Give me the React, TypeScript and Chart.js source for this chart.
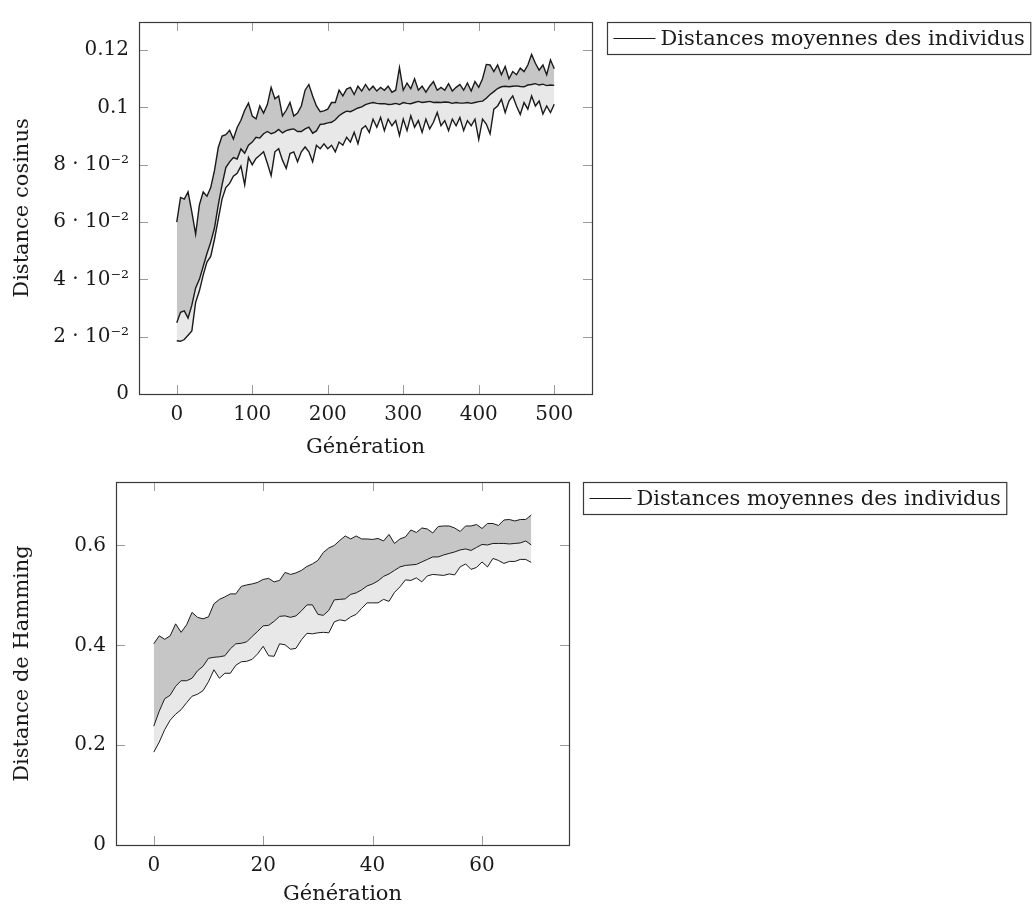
import React, { useEffect, useRef } from "react";
import { Chart, registerables } from "chart.js";

Chart.register(...registerables);

// ---------- data : cosine distance (top panel) ----------
const TOP_GEN = [
  0, 5, 10, 15, 20, 25, 30, 35, 40, 45, 50, 55, 60, 65, 70, 75, 80, 85, 90, 95,
  100, 105, 110, 115, 120, 125, 130, 135, 140, 145, 150, 155, 160, 165, 170, 175, 180, 185, 190, 195,
  200, 205, 210, 215, 220, 225, 230, 235, 240, 245, 250, 255, 260, 265, 270, 275, 280, 285, 290, 295,
  300, 305, 310, 315, 320, 325, 330, 335, 340, 345, 350, 355, 360, 365, 370, 375, 380, 385, 390, 395,
  400, 405, 410, 415, 420, 425, 430, 435, 440, 445, 450, 455, 460, 465, 470, 475, 480, 485, 490, 495,
  500,
];
const TOP_MAX = [
  0.06, 0.0686, 0.068, 0.0705, 0.0635, 0.0558, 0.066, 0.0705, 0.069, 0.072,
  0.078, 0.086, 0.09, 0.0905, 0.092, 0.089, 0.093, 0.0955, 0.099, 0.1015,
  0.097, 0.096, 0.1005, 0.098, 0.101, 0.107, 0.103, 0.104, 0.097, 0.099,
  0.1017, 0.097, 0.098, 0.1005, 0.106, 0.108, 0.104, 0.1005, 0.0985, 0.0988,
  0.0994, 0.1017, 0.1017, 0.106, 0.104, 0.1064, 0.107, 0.1045, 0.1074, 0.1057,
  0.108, 0.106, 0.1074, 0.1057, 0.107, 0.106, 0.1074, 0.1053, 0.106, 0.1139,
  0.106, 0.1085, 0.1065, 0.11, 0.106, 0.1074, 0.1053, 0.1074, 0.109, 0.106,
  0.107, 0.106, 0.1083, 0.1057, 0.107, 0.108, 0.106, 0.1085, 0.1057, 0.109,
  0.107, 0.11, 0.115, 0.1148, 0.1125, 0.1148, 0.1114, 0.1143, 0.11, 0.1125,
  0.1114, 0.1137, 0.1125, 0.1148, 0.1185, 0.1154, 0.113, 0.1148, 0.1114, 0.1166,
  0.1135,
];
const TOP_MEAN = [
  0.0249, 0.0285, 0.029, 0.0265, 0.031, 0.037, 0.04, 0.0445, 0.049, 0.053,
  0.058, 0.066, 0.073, 0.079, 0.081, 0.0825, 0.082, 0.0855, 0.084, 0.0868,
  0.0879, 0.0896, 0.0893, 0.0908, 0.0916, 0.0908, 0.0913, 0.0923, 0.0911, 0.0919,
  0.0923, 0.0925, 0.0916, 0.0916, 0.0925, 0.0931, 0.091, 0.0918, 0.0941, 0.0942,
  0.0946, 0.0948, 0.0957, 0.0971, 0.098, 0.0987, 0.0985, 0.0991, 0.0998, 0.1002,
  0.101, 0.1014, 0.1017, 0.1014, 0.1013, 0.1013, 0.101, 0.1011, 0.1014, 0.101,
  0.1017, 0.1014, 0.1013, 0.1017, 0.1021, 0.1017, 0.1019, 0.1021, 0.1017, 0.1018,
  0.1017, 0.1019, 0.1018, 0.1014, 0.1017, 0.1015, 0.1015, 0.1017, 0.1014, 0.1017,
  0.102, 0.1022, 0.1032, 0.1045, 0.1055, 0.1066, 0.1072, 0.1074, 0.1072, 0.1074,
  0.1075, 0.1073, 0.1072, 0.1078, 0.108, 0.1083, 0.1078, 0.1081, 0.1076, 0.1078,
  0.1077,
];
const TOP_MIN = [
  0.0186, 0.0184, 0.019, 0.0205, 0.022, 0.032, 0.036, 0.0415, 0.046, 0.048,
  0.054, 0.061, 0.068, 0.072, 0.0735, 0.076, 0.077, 0.0795, 0.073, 0.0825,
  0.08, 0.0822, 0.0833, 0.0845, 0.0805, 0.0762, 0.0845, 0.0856, 0.0816, 0.0787,
  0.0839, 0.0845, 0.081, 0.0845, 0.0862, 0.0845, 0.081, 0.0868, 0.0856, 0.0873,
  0.0856, 0.0868, 0.0845, 0.0879, 0.0868, 0.0896, 0.0879, 0.0913, 0.0873, 0.0925,
  0.0936, 0.0913, 0.0959, 0.0931, 0.0965, 0.0919, 0.0959, 0.0936, 0.0954, 0.0902,
  0.0959, 0.0919, 0.0971, 0.0931, 0.0954, 0.0913, 0.0959, 0.0925, 0.0948, 0.0982,
  0.0936, 0.0954, 0.0919, 0.0959, 0.0936, 0.0965, 0.0919, 0.0954, 0.0936, 0.0959,
  0.0888, 0.0959, 0.0942, 0.0908, 0.0994, 0.1005, 0.1028, 0.0982, 0.1022, 0.104,
  0.1005, 0.0975, 0.1017, 0.0994, 0.104, 0.1005, 0.1022, 0.0977, 0.1005, 0.0982,
  0.1011,
];
const TOP_X_TICKS = [0, 100, 200, 300, 400, 500];
const TOP_X_TICK_LABELS = ["0", "100", "200", "300", "400", "500"];
const TOP_Y_TICKS = [0, 0.02, 0.04, 0.06, 0.08, 0.1, 0.12];
const TOP_Y_TICK_LABELS = [
  "0",
  "2 · 10⁻²",
  "4 · 10⁻²",
  "6 · 10⁻²",
  "8 · 10⁻²",
  "0.1",
  "0.12",
];
const TOP_Y_TITLE = "Distance cosinus";

// ---------- data : Hamming distance (bottom panel) ----------
const BOT_GEN = [
  0, 1, 2, 3, 4, 5, 6, 7, 8, 9, 10, 11, 12, 13, 14, 15, 16, 17, 18, 19,
  20, 21, 22, 23, 24, 25, 26, 27, 28, 29, 30, 31, 32, 33, 34, 35, 36, 37, 38, 39,
  40, 41, 42, 43, 44, 45, 46, 47, 48, 49, 50, 51, 52, 53, 54, 55, 56, 57, 58, 59,
  60, 61, 62, 63, 64, 65, 66, 67, 68, 69,
];
const BOT_MAX = [
  0.403, 0.419, 0.412, 0.419, 0.443, 0.426, 0.441, 0.466, 0.456, 0.453,
  0.457, 0.483, 0.492, 0.497, 0.503, 0.503, 0.518, 0.521, 0.523, 0.526,
  0.532, 0.534, 0.527, 0.53, 0.546, 0.542, 0.545, 0.55, 0.558, 0.563,
  0.57, 0.586, 0.595, 0.6, 0.61, 0.619, 0.613, 0.619, 0.613, 0.613,
  0.612, 0.614, 0.609, 0.622, 0.604, 0.613, 0.617, 0.631, 0.626, 0.635,
  0.633, 0.625, 0.638, 0.639, 0.639, 0.635, 0.628, 0.639, 0.639, 0.642,
  0.634, 0.644, 0.644, 0.64, 0.651, 0.652, 0.649, 0.652, 0.652, 0.661,
];
const BOT_MEAN = [
  0.238, 0.268, 0.293, 0.3, 0.318, 0.329, 0.329, 0.334, 0.349, 0.358,
  0.374, 0.376, 0.377, 0.379, 0.393, 0.403, 0.404, 0.407, 0.418, 0.428,
  0.439, 0.44, 0.448, 0.458, 0.459, 0.456, 0.459, 0.469, 0.481, 0.481,
  0.462, 0.46, 0.47, 0.491, 0.492, 0.493, 0.502, 0.505, 0.511, 0.519,
  0.523, 0.529, 0.538, 0.543, 0.55, 0.557, 0.56, 0.561, 0.562, 0.567,
  0.572, 0.577, 0.577, 0.581, 0.584, 0.587, 0.591, 0.593, 0.59, 0.596,
  0.602, 0.601, 0.604, 0.604, 0.604, 0.603, 0.604, 0.605, 0.609, 0.601,
];
const BOT_MIN = [
  0.186, 0.206, 0.231, 0.25, 0.262, 0.271, 0.285, 0.298, 0.302, 0.309,
  0.327, 0.351, 0.334, 0.344, 0.344, 0.36, 0.367, 0.368, 0.372, 0.383,
  0.398, 0.379, 0.378, 0.403, 0.401, 0.392, 0.394, 0.411, 0.424, 0.423,
  0.425, 0.426, 0.425, 0.447, 0.451, 0.449, 0.457, 0.462, 0.474, 0.485,
  0.485, 0.485, 0.492, 0.488, 0.506, 0.517, 0.531, 0.53, 0.535, 0.527,
  0.539, 0.542, 0.541, 0.54, 0.543, 0.541, 0.557, 0.563, 0.552, 0.556,
  0.567, 0.557, 0.574, 0.57, 0.564, 0.568, 0.568, 0.572, 0.572, 0.566,
];
const BOT_X_TICKS = [0, 20, 40, 60];
const BOT_X_TICK_LABELS = ["0", "20", "40", "60"];
const BOT_Y_TICKS = [0, 0.2, 0.4, 0.6];
const BOT_Y_TICK_LABELS = ["0", "0.2", "0.4", "0.6"];
const BOT_Y_TITLE = "Distance de Hamming";

const X_TITLE = "Génération";
const LEGEND_LABEL = "Distances moyennes des individus";

// ---------- style ----------
const FONT = "'DejaVu Serif', 'Liberation Serif', serif";
const TEXT_COLOR = "#1a1a1a";
const DARK_FILL = "#c6c6c6";
const LIGHT_FILL = "#e8e8e8";
const LINE_COLOR = "#1a1a1a";

const pgfFrame = {
  id: "pgfFrame",
  afterDatasetsDraw(chart: any, _args: any, opts: any) {
    const { ctx, chartArea: a, scales } = chart;
    const L = 9;
    ctx.save();
    ctx.strokeStyle = "#9a9a9a";
    ctx.lineWidth = 1;
    ctx.beginPath();
    for (const t of scales.x.ticks) {
      const px = Math.round(scales.x.getPixelForValue(t.value)) + 0.5;
      ctx.moveTo(px, a.bottom);
      ctx.lineTo(px, a.bottom - L);
      ctx.moveTo(px, a.top);
      ctx.lineTo(px, a.top + L);
    }
    for (const t of scales.y.ticks) {
      const py = Math.round(scales.y.getPixelForValue(t.value)) + 0.5;
      ctx.moveTo(a.left, py);
      ctx.lineTo(a.left + L, py);
      ctx.moveTo(a.right, py);
      ctx.lineTo(a.right - L, py);
    }
    ctx.stroke();
    ctx.strokeStyle = "#3a3a3a";
    ctx.lineWidth = 1.2;
    ctx.strokeRect(Math.round(a.left) + 0.5, Math.round(a.top) + 0.5, Math.round(a.width), Math.round(a.height));

    // legend box (pgfplots style, outside north east)
    const label = chart.data.datasets[1].label;
    ctx.font = `21px ${FONT}`;
    const tw = ctx.measureText(label).width;
    const bx = Math.round(a.right + opts.gap) + 0.5;
    const by = Math.round(a.top) + 0.5;
    const bh = 32;
    const bw = 6 + 42 + 5 + tw + 6;
    ctx.strokeStyle = "#3a3a3a";
    ctx.lineWidth = 1.2;
    ctx.strokeRect(bx, by, bw, bh);
    const cy = by + bh / 2;
    ctx.strokeStyle = LINE_COLOR;
    ctx.lineWidth = 1;
    ctx.beginPath();
    ctx.moveTo(bx + 6, cy);
    ctx.lineTo(bx + 48, cy);
    ctx.stroke();
    ctx.fillStyle = TEXT_COLOR;
    ctx.textBaseline = "middle";
    ctx.textAlign = "left";
    ctx.fillText(label, bx + 53, cy + 1);
    ctx.restore();
  },
};

type PanelProps = {
  width: number;
  height: number;
  top: number;
  gen: number[];
  max: number[];
  mean: number[];
  min: number[];
  xMin: number;
  xMax: number;
  yMax: number;
  xTicks: number[];
  xTickLabels: string[];
  yTicks: number[];
  yTickLabels: string[];
  yTitle: string;
  yAxisWidth: number;
  padRight: number;
  padTop: number;
  xAxisHeight: number;
  yTitlePad: number;
  legendGap: number;
  lineWidth: number;
};

function Panel(p: PanelProps) {
  const ref = useRef<HTMLCanvasElement | null>(null);
  useEffect(() => {
    if (!ref.current) return;
    const pts = (ys: number[]) => p.gen.map((g, i) => ({ x: g, y: ys[i] }));
    const chart = new Chart(ref.current, {
      type: "line",
      data: {
        datasets: [
          {
            label: "max",
            data: pts(p.max),
            borderColor: LINE_COLOR,
            borderWidth: p.lineWidth,
            backgroundColor: DARK_FILL,
            fill: "+1",
            pointRadius: 0,
            tension: 0,
          },
          {
            label: LEGEND_LABEL,
            data: pts(p.mean),
            borderColor: LINE_COLOR,
            borderWidth: p.lineWidth,
            backgroundColor: LIGHT_FILL,
            fill: "+1",
            pointRadius: 0,
            tension: 0,
          },
          {
            label: "min",
            data: pts(p.min),
            borderColor: LINE_COLOR,
            borderWidth: p.lineWidth,
            fill: false,
            pointRadius: 0,
            tension: 0,
          },
        ],
      },
      options: {
        responsive: false,
        animation: false,
        devicePixelRatio: 1,
        layout: { padding: { left: 0, right: p.padRight, top: p.padTop, bottom: 0 } },
        plugins: {
          legend: { display: false },
          tooltip: { enabled: false },
          filler: { drawTime: "beforeDatasetsDraw" },
          pgfFrame: { gap: p.legendGap },
        } as any,
        scales: {
          x: {
            type: "linear",
            min: p.xMin,
            max: p.xMax,
            grid: { display: false, drawTicks: false },
            border: { display: false },
            afterBuildTicks: (s: any) => {
              s.ticks = p.xTicks.map((v) => ({ value: v }));
            },
            afterFit: (s: any) => {
              s.height = p.xAxisHeight;
            },
            ticks: {
              autoSkip: false,
              maxRotation: 0,
              padding: 9,
              color: TEXT_COLOR,
              font: { family: FONT, size: 20 },
              callback: (_v: any, i: number) => p.xTickLabels[i],
            },
            title: {
              display: true,
              text: X_TITLE,
              color: TEXT_COLOR,
              font: { family: FONT, size: 21 },
              padding: { top: 0, bottom: 0 },
            },
          },
          y: {
            type: "linear",
            min: 0,
            max: p.yMax,
            grid: { display: false, drawTicks: false },
            border: { display: false },
            afterBuildTicks: (s: any) => {
              s.ticks = p.yTicks.map((v) => ({ value: v }));
            },
            afterFit: (s: any) => {
              s.width = p.yAxisWidth;
            },
            ticks: {
              autoSkip: false,
              padding: 10,
              color: TEXT_COLOR,
              font: { family: FONT, size: 20 },
              callback: (_v: any, i: number) => p.yTickLabels[i],
            },
            title: {
              display: true,
              text: p.yTitle,
              color: TEXT_COLOR,
              font: { family: FONT, size: 21 },
              padding: { top: p.yTitlePad, bottom: 0 },
            },
          },
        },
      },
      plugins: [pgfFrame],
    });
    return () => chart.destroy();
  }, []);
  return (
    <canvas
      ref={ref}
      width={p.width}
      height={p.height}
      style={{ position: "absolute", left: 0, top: p.top, width: p.width, height: p.height }}
    />
  );
}

export default function App() {
  return (
    <div style={{ position: "fixed", left: 0, top: 0, width: 1036, height: 907, background: "#fff" }}>
      <Panel
        width={1036}
        height={460}
        top={0}
        gen={TOP_GEN}
        max={TOP_MAX}
        mean={TOP_MEAN}
        min={TOP_MIN}
        xMin={-50}
        xMax={550}
        yMax={0.1298}
        xTicks={TOP_X_TICKS}
        xTickLabels={TOP_X_TICK_LABELS}
        yTicks={TOP_Y_TICKS}
        yTickLabels={TOP_Y_TICK_LABELS}
        yTitle={TOP_Y_TITLE}
        yAxisWidth={139}
        padRight={444}
        padTop={15}
        xAxisHeight={66}
        yTitlePad={10}
        legendGap={15}
        lineWidth={1.4}
      />
      <Panel
        width={1036}
        height={447}
        top={460}
        gen={BOT_GEN}
        max={BOT_MAX}
        mean={BOT_MEAN}
        min={BOT_MIN}
        xMin={-6.9}
        xMax={75.9}
        yMax={0.7271}
        xTicks={BOT_X_TICKS}
        xTickLabels={BOT_X_TICK_LABELS}
        yTicks={BOT_Y_TICKS}
        yTickLabels={BOT_Y_TICK_LABELS}
        yTitle={BOT_Y_TITLE}
        yAxisWidth={116}
        padRight={467}
        padTop={6}
        xAxisHeight={62}
        yTitlePad={10}
        legendGap={14}
        lineWidth={1}
      />
    </div>
  );
}
